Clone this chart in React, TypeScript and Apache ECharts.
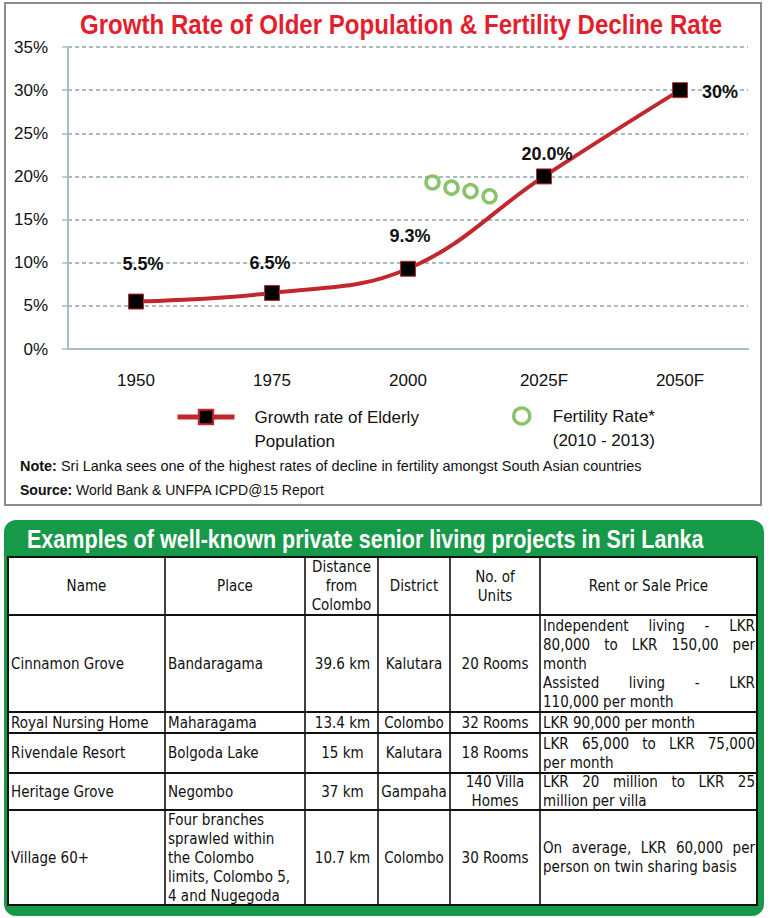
import React, { useEffect, useRef } from "react";
import * as echarts from "echarts";

// ---------- chart data ----------
const categories = ["1950", "1975", "2000", "2025F", "2050F"];
const elderlyGrowth = [5.5, 6.5, 9.3, 20.0, 30];
const elderlyLabels = ["5.5%", "6.5%", "9.3%", "20.0%", "30%"];
const fertilityYears = [2004.5, 2008, 2011.5, 2015];
const fertilityRates = [19.3, 18.7, 18.3, 17.7];
const legendNames = ["Growth rate of Elderly\nPopulation", "Fertility Rate*\n(2010 - 2013)"];
const chartTitle = "Growth Rate of Older Population & Fertility Decline Rate";
const noteText = "Sri Lanka sees one of the highest rates of decline in fertility amongst South Asian countries";
const sourceText = "World Bank & UNFPA ICPD@15 Report";

// ---------- table data ----------
const tableTitle = "Examples of well-known private senior living projects in Sri Lanka";
const tableHeaders = ["Name", "Place", "Distance\nfrom\nColombo", "District", "No. of\nUnits", "Rent or Sale Price"];
const projectNames = ["Cinnamon Grove", "Royal Nursing Home", "Rivendale Resort", "Heritage Grove", "Village 60+"];
const projectPlaces = [
  "Bandaragama",
  "Maharagama",
  "Bolgoda Lake",
  "Negombo",
  "Four branches\nsprawled within\nthe Colombo\nlimits, Colombo 5,\n4 and Nugegoda",
];
const distances = ["39.6 km", "13.4 km", "15 km", "37 km", "10.7 km"];
const districts = ["Kalutara", "Colombo", "Kalutara", "Gampaha", "Colombo"];
const units = ["20 Rooms", "32 Rooms", "18 Rooms", "140 Villa\nHomes", "30 Rooms"];
const priceLines: string[][][] = [
  [["Independent living - LKR", "80,000 to LKR 150,00 per", "month"], ["Assisted living - LKR", "110,000 per month"]],
  [["LKR 90,000 per month"]],
  [["LKR 65,000 to LKR 75,000", "per month"]],
  [["LKR 20 million to LKR 25", "million per villa"]],
  [["On average, LKR 60,000 per", "person on twin sharing basis"]],
];

// ---------- styles / layout ----------
const SANS = "'Liberation Sans', Arial, sans-serif";
const TABLE_FONT = "'DejaVu Sans Condensed', 'DejaVu Sans', sans-serif";
const TABLE_SIZE = 15;
const LINE_H = 19;
const labelPos = ["top", "top", "top", "top", "right"];
const labelDist = [21, 13, 16, 5, 14];
const labelOffset = [[7, 0], [-2, 0], [2, 0], [3, 0], [0, 2]];
const colX = [8, 165, 305, 378, 450, 540, 757];
const rowY = [557, 615, 712, 733, 773, 810, 905];
const AXIS_COLOR = "#a9bcc3";
const GREEN = "#6cb545";
const RED = "#c1272d";

let measureCtx: CanvasRenderingContext2D | null = null;
function measure(s: string, font: string): number {
  if (!measureCtx) measureCtx = document.createElement("canvas").getContext("2d");
  measureCtx!.font = font;
  return measureCtx!.measureText(s).width;
}
const tableFontCss = `${TABLE_SIZE}px ${TABLE_FONT}`;

function tText(x: number, y: number, text: string, align = "left") {
  return {
    type: "text",
    silent: true,
    style: {
      x,
      y,
      text,
      fill: "#111",
      fontSize: TABLE_SIZE,
      fontFamily: TABLE_FONT,
      align,
      verticalAlign: "middle",
      lineHeight: LINE_H,
    },
  };
}

// text squeezed horizontally to a target width (the reference uses a condensed face)
function narrowText(x: number, y: number, targetW: number, text: string, size: number, weight: string, fill: string) {
  const w = measure(text, `${weight} ${size}px ${SANS}`);
  return {
    type: "text",
    silent: true,
    x,
    y,
    scaleX: targetW / w,
    style: { x: 0, y: 0, text, fill, fontSize: size, fontWeight: weight, fontFamily: SANS, verticalAlign: "middle" },
  };
}

function richLine(x: number, y: number, targetW: number, bold: string, rest: string) {
  const size = 15;
  const w = measure(bold + " ", `bold ${size}px ${SANS}`) + measure(rest, `normal ${size}px ${SANS}`);
  return {
    type: "text",
    silent: true,
    x,
    y,
    scaleX: targetW / w,
    style: {
      x: 0,
      y: 0,
      text: "{b|" + bold + " }{r|" + rest + "}",
      verticalAlign: "middle",
      rich: {
        b: { fontSize: size, fontWeight: "bold", fontFamily: SANS, fill: "#111" },
        r: { fontSize: size, fontFamily: SANS, fill: "#111" },
      },
    },
  };
}

function buildTable(): any[] {
  const els: any[] = [];
  const L = colX[0];
  const R = colX[colX.length - 1];
  const T = rowY[0];
  const B = rowY[rowY.length - 1];
  els.push({
    type: "rect",
    silent: true,
    shape: { x: 4, y: 520, width: 760, height: 396, r: 12 },
    style: { fill: "#17994a" },
  });
  els.push(narrowText(27, 539, 677, tableTitle, 26, "bold", "#fff"));
  els.push({
    type: "rect",
    silent: true,
    shape: { x: L, y: T, width: R - L, height: B - T },
    style: { fill: "#fff", stroke: "#111", lineWidth: 2 },
  });
  for (let i = 1; i < colX.length - 1; i++) {
    els.push({
      type: "line",
      silent: true,
      shape: { x1: colX[i], y1: T, x2: colX[i], y2: B },
      style: { stroke: "#111", lineWidth: 1.6 },
    });
  }
  for (let j = 1; j < rowY.length - 1; j++) {
    els.push({
      type: "line",
      silent: true,
      shape: { x1: L, y1: rowY[j], x2: R, y2: rowY[j] },
      style: { stroke: "#111", lineWidth: 1.8 },
    });
  }
  const hy = (rowY[0] + rowY[1]) / 2;
  tableHeaders.forEach((h, c) => {
    els.push(tText((colX[c] + colX[c + 1]) / 2, hy, h, "center"));
  });
  for (let r = 0; r < projectNames.length; r++) {
    const top = rowY[r + 1];
    const bot = rowY[r + 2];
    const cy = (top + bot) / 2;
    els.push(tText(colX[0] + 3, cy, projectNames[r]));
    els.push(tText(colX[1] + 3, cy, projectPlaces[r]));
    els.push(tText((colX[2] + colX[3]) / 2 + 1, cy, distances[r], "center"));
    els.push(tText((colX[3] + colX[4]) / 2, cy, districts[r], "center"));
    els.push(tText((colX[4] + colX[5]) / 2, cy, units[r], "center"));
    const paras = priceLines[r];
    const total = paras.reduce((s, p) => s + p.length, 0);
    const px0 = colX[5] + 3;
    const px1 = colX[6] - 2;
    let ly = cy - ((total - 1) * LINE_H) / 2;
    paras.forEach((p) => {
      p.forEach((line, li) => {
        if (li === p.length - 1) {
          els.push(tText(px0, ly, line));
        } else {
          const words = line.split(" ");
          const widths = words.map((w) => measure(w, tableFontCss));
          const sum = widths.reduce((a, b) => a + b, 0);
          const gap = (px1 - px0 - sum) / (words.length - 1);
          let x = px0;
          words.forEach((w, wi) => {
            els.push(tText(x, ly, w));
            x += widths[wi] + gap;
          });
        }
        ly += LINE_H;
      });
    });
  }
  return els;
}

export default function App() {
  const ref = useRef<HTMLDivElement>(null);
  useEffect(() => {
    if (!ref.current) return;
    const chart = echarts.init(ref.current, null, { renderer: "svg" });
    const legendText = (padLeft: number) => ({
      fontSize: 17,
      lineHeight: 24,
      fontFamily: SANS,
      color: "#111",
      padding: [0, 0, 0, padLeft],
    });
    const option: any = {
      animation: false,
      backgroundColor: "#fff",
      legend: [
        {
          data: [legendNames[0]],
          formatter: (n: string) => "\n" + n,
          left: 175,
          top: 381,
          padding: 0,
          itemWidth: 57,
          itemHeight: 18,
          selectedMode: false,
          lineStyle: { width: 5, color: RED },
          textStyle: legendText(15),
        },
        {
          data: [legendNames[1]],
          formatter: (n: string) => "\n" + n,
          left: 512,
          top: 380,
          padding: 0,
          itemWidth: 16,
          itemHeight: 16,
          selectedMode: false,
          itemStyle: { color: "#fff", borderColor: GREEN, borderWidth: 3.5 },
          textStyle: legendText(18),
        },
      ],
      grid: { left: 68, right: 22, top: 47, bottom: 569 },
      xAxis: [
        {
          type: "category",
          data: categories,
          axisLine: { lineStyle: { color: AXIS_COLOR, width: 2 } },
          axisTick: { length: 6, lineStyle: { color: AXIS_COLOR, width: 1.5 } },
          axisLabel: { fontSize: 17, color: "#111", fontFamily: SANS, margin: 23 },
        },
        { type: "value", min: 1937.5, max: 2062.5, show: false },
      ],
      yAxis: {
        type: "value",
        min: 0,
        max: 35,
        interval: 5,
        axisLine: { show: true, lineStyle: { color: AXIS_COLOR, width: 2 } },
        axisTick: { show: true, length: 6, lineStyle: { color: AXIS_COLOR, width: 1.5 } },
        axisLabel: { formatter: "{value}%", fontSize: 17, color: "#111", fontFamily: SANS, margin: 20 },
        splitLine: { lineStyle: { color: "#8aa6ab", type: [4, 3], width: 1.5 } },
      },
      series: [
        {
          name: legendNames[0],
          type: "line",
          smooth: 0.4,
          symbol: "rect",
          symbolSize: 15,
          lineStyle: { color: RED, width: 4 },
          itemStyle: { color: "#000", borderColor: RED, borderWidth: 1 },
          label: {
            show: true,
            formatter: (p: any) => elderlyLabels[p.dataIndex],
            fontSize: 18,
            fontWeight: "bold",
            fontFamily: SANS,
            color: "#111",
          },
          data: elderlyGrowth.map((v, i) => ({
            value: v,
            label: { position: labelPos[i], distance: labelDist[i], offset: labelOffset[i] },
          })),
          z: 3,
        },
        {
          name: legendNames[1],
          type: "scatter",
          xAxisIndex: 1,
          symbol: "circle",
          symbolSize: 13,
          itemStyle: { color: "#fff", borderColor: GREEN, borderWidth: 3.5 },
          data: fertilityYears.map((x, i) => [x, fertilityRates[i]]),
          z: 2,
        },
      ],
      graphic: [
        {
          type: "rect",
          silent: true,
          shape: { x: 5, y: 3, width: 756, height: 502 },
          style: { fill: "none", stroke: "#8c8c8c", lineWidth: 2 },
        },
        narrowText(80, 24, 642, chartTitle, 28, "bold", "#e31e2d"),
        richLine(20, 466, 623, "Note:", noteText),
        richLine(20, 490, 305, "Source:", sourceText),
        ...buildTable(),
      ],
    };
    chart.setOption(option);
    return () => chart.dispose();
  }, []);
  return (
    <div
      ref={ref}
      style={{ position: "absolute", left: 0, top: 0, width: 770, height: 918, background: "#fff" }}
    />
  );
}
